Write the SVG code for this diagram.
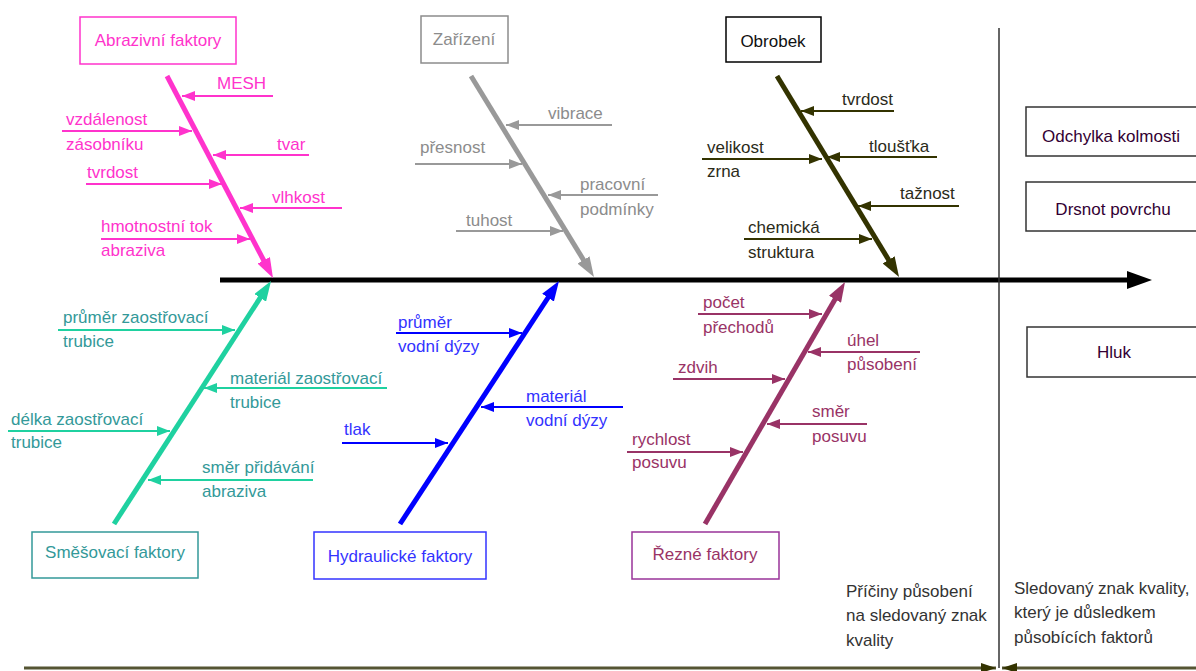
<svg xmlns="http://www.w3.org/2000/svg" width="1196" height="671" viewBox="0 0 1196 671">
  <style>
    text { font-family: "Liberation Sans", Arial, sans-serif; font-size: 17px; }
    .box { fill: #ffffff; stroke-width: 1.5; }
    .bone { stroke-width: 5; fill: none; }
    .twig { stroke-width: 2; fill: none; }
    .c { text-anchor: middle; }
    .pink { stroke: #ff33cc; }
    .gray { stroke: #999999; }
    .olive { stroke: #333300; }
    .teal { stroke: #1fd1a0; }
    .blue { stroke: #0000ff; }
    .plum { stroke: #993366; }
    .tpink { fill: #ff33cc; }
    .tgray { fill: #8c8c8c; }
    .tolive { fill: #2b2b1a; }
    .tteal { fill: #339999; }
    .tblue { fill: #3333ff; }
    .tplum { fill: #993366; }
    .tdark { fill: #330033; }
    .tnote { fill: #333333; }
  </style>
  <defs>
    <marker id="hPink" markerUnits="userSpaceOnUse" markerWidth="20" markerHeight="14" refX="8" refY="7" orient="auto"><path d="M0,0 L20,7 L0,14 z" fill="#ff33cc"/></marker>
    <marker id="hGray" markerUnits="userSpaceOnUse" markerWidth="20" markerHeight="14" refX="8" refY="7" orient="auto"><path d="M0,0 L20,7 L0,14 z" fill="#999999"/></marker>
    <marker id="hOlive" markerUnits="userSpaceOnUse" markerWidth="20" markerHeight="14" refX="8" refY="7" orient="auto"><path d="M0,0 L20,7 L0,14 z" fill="#333300"/></marker>
    <marker id="hTeal" markerUnits="userSpaceOnUse" markerWidth="20" markerHeight="14" refX="8" refY="7" orient="auto"><path d="M0,0 L20,7 L0,14 z" fill="#1fd1a0"/></marker>
    <marker id="hBlue" markerUnits="userSpaceOnUse" markerWidth="20" markerHeight="14" refX="8" refY="7" orient="auto"><path d="M0,0 L20,7 L0,14 z" fill="#0000ff"/></marker>
    <marker id="hPlum" markerUnits="userSpaceOnUse" markerWidth="20" markerHeight="14" refX="8" refY="7" orient="auto"><path d="M0,0 L20,7 L0,14 z" fill="#993366"/></marker>
    <marker id="sPink" markerUnits="userSpaceOnUse" markerWidth="13" markerHeight="10" refX="13" refY="5" orient="auto"><path d="M0,0 L13,5 L0,10 z" fill="#ff33cc"/></marker>
    <marker id="sGray" markerUnits="userSpaceOnUse" markerWidth="13" markerHeight="10" refX="13" refY="5" orient="auto"><path d="M0,0 L13,5 L0,10 z" fill="#999999"/></marker>
    <marker id="sOlive" markerUnits="userSpaceOnUse" markerWidth="13" markerHeight="10" refX="13" refY="5" orient="auto"><path d="M0,0 L13,5 L0,10 z" fill="#333300"/></marker>
    <marker id="sTeal" markerUnits="userSpaceOnUse" markerWidth="13" markerHeight="10" refX="13" refY="5" orient="auto"><path d="M0,0 L13,5 L0,10 z" fill="#1fd1a0"/></marker>
    <marker id="sBlue" markerUnits="userSpaceOnUse" markerWidth="13" markerHeight="10" refX="13" refY="5" orient="auto"><path d="M0,0 L13,5 L0,10 z" fill="#0000ff"/></marker>
    <marker id="sPlum" markerUnits="userSpaceOnUse" markerWidth="13" markerHeight="10" refX="13" refY="5" orient="auto"><path d="M0,0 L13,5 L0,10 z" fill="#993366"/></marker>
    <marker id="sAxis" markerUnits="userSpaceOnUse" markerWidth="15" markerHeight="10" refX="15" refY="5" orient="auto"><path d="M0,0 L15,5 L0,10 z" fill="#333300"/></marker>
  </defs>

  <!-- main spine and frame lines -->
  <g id="connectors">
    <line x1="220" y1="280" x2="1131" y2="280" stroke="#000000" stroke-width="5"/>
    <path d="M1127,271 L1152,280 L1127,289 z" fill="#000000"/>
    <line x1="999" y1="28" x2="999" y2="668" stroke="#333333" stroke-width="1.5"/>
    <line x1="24" y1="668" x2="996" y2="668" stroke="#555533" stroke-width="3" marker-end="url(#sAxis)"/>
    <line x1="1196" y1="668" x2="1002" y2="668" stroke="#555533" stroke-width="3" marker-end="url(#sAxis)"/>

    <!-- main bones -->
    <line class="bone pink" x1="167" y1="76" x2="267.4" y2="267.4" marker-end="url(#hPink)"/>
    <line class="bone gray" x1="471" y1="76" x2="587.7" y2="266.8" marker-end="url(#hGray)"/>
    <line class="bone olive" x1="777" y1="76" x2="892.8" y2="266.7" marker-end="url(#hOlive)"/>
    <line class="bone teal" x1="114" y1="524" x2="264.5" y2="291.1" marker-end="url(#hTeal)"/>
    <line class="bone blue" x1="400" y1="524" x2="552.4" y2="291" marker-end="url(#hBlue)"/>
    <line class="bone plum" x1="705" y1="524" x2="839" y2="292.4" marker-end="url(#hPlum)"/>

    <!-- abrasive factor twigs -->
    <line class="twig pink" x1="273" y1="96" x2="182" y2="96" marker-end="url(#sPink)"/>
    <line class="twig pink" x1="62" y1="131" x2="192" y2="131" marker-end="url(#sPink)"/>
    <line class="twig pink" x1="309" y1="155" x2="213" y2="155" marker-end="url(#sPink)"/>
    <line class="twig pink" x1="86" y1="184" x2="222" y2="184" marker-end="url(#sPink)"/>
    <line class="twig pink" x1="342" y1="208" x2="240" y2="208" marker-end="url(#sPink)"/>
    <line class="twig pink" x1="101" y1="239" x2="250" y2="239" marker-end="url(#sPink)"/>

    <!-- equipment twigs -->
    <line class="twig gray" x1="612" y1="125" x2="506" y2="125" marker-end="url(#sGray)"/>
    <line class="twig gray" x1="415" y1="164" x2="522" y2="164" marker-end="url(#sGray)"/>
    <line class="twig gray" x1="658" y1="195" x2="548" y2="195" marker-end="url(#sGray)"/>
    <line class="twig gray" x1="456" y1="231" x2="563" y2="231" marker-end="url(#sGray)"/>

    <!-- workpiece twigs -->
    <line class="twig olive" x1="894" y1="111" x2="801" y2="111" marker-end="url(#sOlive)"/>
    <line class="twig olive" x1="702" y1="159" x2="822" y2="159" marker-end="url(#sOlive)"/>
    <line class="twig olive" x1="937" y1="157" x2="827" y2="157" marker-end="url(#sOlive)"/>
    <line class="twig olive" x1="959" y1="206" x2="858" y2="206" marker-end="url(#sOlive)"/>
    <line class="twig olive" x1="744" y1="239" x2="872" y2="239" marker-end="url(#sOlive)"/>

    <!-- mixing factor twigs -->
    <line class="twig teal" x1="58" y1="330" x2="235" y2="330" marker-end="url(#sTeal)"/>
    <line class="twig teal" x1="387" y1="388" x2="204" y2="388" marker-end="url(#sTeal)"/>
    <line class="twig teal" x1="8" y1="431" x2="170" y2="431" marker-end="url(#sTeal)"/>
    <line class="twig teal" x1="313" y1="480" x2="148" y2="480" marker-end="url(#sTeal)"/>

    <!-- hydraulic factor twigs -->
    <line class="twig blue" x1="396" y1="333" x2="522" y2="333" marker-end="url(#sBlue)"/>
    <line class="twig blue" x1="623" y1="407" x2="481" y2="407" marker-end="url(#sBlue)"/>
    <line class="twig blue" x1="342" y1="443" x2="448" y2="443" marker-end="url(#sBlue)"/>

    <!-- cutting factor twigs -->
    <line class="twig plum" x1="698" y1="314" x2="822" y2="314" marker-end="url(#sPlum)"/>
    <line class="twig plum" x1="920" y1="352" x2="808" y2="352" marker-end="url(#sPlum)"/>
    <line class="twig plum" x1="673" y1="379" x2="785" y2="379" marker-end="url(#sPlum)"/>
    <line class="twig plum" x1="867" y1="424" x2="767" y2="424" marker-end="url(#sPlum)"/>
    <line class="twig plum" x1="627" y1="452" x2="743" y2="452" marker-end="url(#sPlum)"/>
  </g>

  <g id="abrazivni">
    <rect class="box" x="80" y="17" width="156" height="47" stroke="#ff33cc"/>
    <text class="c tpink" x="158" y="46">Abrazivní faktory</text>
    <text class="tpink" x="217" y="89">MESH</text>
    <text class="tpink" x="66" y="125">vzdálenost</text>
    <text class="tpink" x="66" y="150">zásobníku</text>
    <text class="tpink" x="277" y="150">tvar</text>
    <text class="tpink" x="87" y="178">tvrdost</text>
    <text class="tpink" x="272" y="203">vlhkost</text>
    <text class="tpink" x="101" y="232">hmotnostní tok</text>
    <text class="tpink" x="101" y="256">abraziva</text>
  </g>

  <g id="zarizeni">
    <rect class="box" x="421" y="16" width="87" height="47" stroke="#8c8c8c"/>
    <text class="c tgray" x="464" y="45">Zařízení</text>
    <text class="tgray" x="548" y="119">vibrace</text>
    <text class="tgray" x="420" y="153">přesnost</text>
    <text class="tgray" x="580" y="190">pracovní</text>
    <text class="tgray" x="580" y="215">podmínky</text>
    <text class="tgray" x="466" y="226">tuhost</text>
  </g>

  <g id="obrobek">
    <rect class="box" x="726" y="17" width="95" height="45" stroke="#000000"/>
    <text class="c" x="773" y="47" fill="#111111">Obrobek</text>
    <text class="tolive" x="842" y="105">tvrdost</text>
    <text class="tolive" x="707" y="153">velikost</text>
    <text class="tolive" x="707" y="177">zrna</text>
    <text class="tolive" x="869" y="152">tloušťka</text>
    <text class="tolive" x="900" y="199">tažnost</text>
    <text class="tolive" x="748" y="233">chemická</text>
    <text class="tolive" x="748" y="258">struktura</text>
  </g>

  <g id="smesovaci">
    <rect class="box" x="32" y="532" width="166" height="46" stroke="#339999"/>
    <text class="c tteal" x="115" y="558">Směšovací faktory</text>
    <text class="tteal" x="63" y="323">průměr zaostřovací</text>
    <text class="tteal" x="63" y="347">trubice</text>
    <text class="tteal" x="230" y="384">materiál zaostřovací</text>
    <text class="tteal" x="230" y="408">trubice</text>
    <text class="tteal" x="11" y="425">délka zaostřovací</text>
    <text class="tteal" x="11" y="448">trubice</text>
    <text class="tteal" x="202" y="473">směr přidávání</text>
    <text class="tteal" x="202" y="497">abraziva</text>
  </g>

  <g id="hydraulicke">
    <rect class="box" x="314" y="532" width="172" height="47" stroke="#3333ff"/>
    <text class="c tblue" x="400" y="562">Hydraulické faktory</text>
    <text class="tblue" x="398" y="328">průměr</text>
    <text class="tblue" x="398" y="352">vodní dýzy</text>
    <text class="tblue" x="526" y="402">materiál</text>
    <text class="tblue" x="526" y="426">vodní dýzy</text>
    <text class="tblue" x="344" y="435">tlak</text>
  </g>

  <g id="rezne">
    <rect class="box" x="632" y="532" width="147" height="47" stroke="#993399"/>
    <text class="c tplum" x="705" y="560">Řezné faktory</text>
    <text class="tplum" x="703" y="308">počet</text>
    <text class="tplum" x="703" y="333">přechodů</text>
    <text class="tplum" x="847" y="346">úhel</text>
    <text class="tplum" x="847" y="370">působení</text>
    <text class="tplum" x="678" y="373">zdvih</text>
    <text class="tplum" x="812" y="417">směr</text>
    <text class="tplum" x="812" y="442">posuvu</text>
    <text class="tplum" x="632" y="445">rychlost</text>
    <text class="tplum" x="632" y="468">posuvu</text>
  </g>

  <g id="odchylka">
    <rect class="box" x="1026" y="107" width="176" height="49" stroke="#333333"/>
    <text class="c tdark" x="1111" y="142">Odchylka kolmosti</text>
  </g>
  <g id="drsnost">
    <rect class="box" x="1026" y="182" width="176" height="49" stroke="#333333"/>
    <text class="c tdark" x="1113" y="215">Drsnot povrchu</text>
  </g>
  <g id="hluk">
    <rect class="box" x="1027" y="327" width="175" height="50" stroke="#333333"/>
    <text class="c tdark" x="1114" y="358">Hluk</text>
  </g>

  <g id="popisky">
    <text class="tnote" x="846" y="597">Příčiny působení</text>
    <text class="tnote" x="846" y="621">na sledovaný znak</text>
    <text class="tnote" x="846" y="646">kvality</text>
    <text class="tnote" x="1014" y="594">Sledovaný znak kvality,</text>
    <text class="tnote" x="1014" y="618">který je důsledkem</text>
    <text class="tnote" x="1014" y="643">působících faktorů</text>
  </g>
</svg>
